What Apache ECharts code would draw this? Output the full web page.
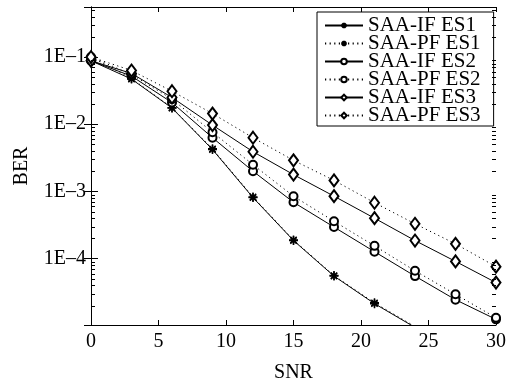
<!DOCTYPE html>
<html>
<head>
<meta charset="utf-8">
<script src="https://cdn.jsdelivr.net/npm/echarts@6/dist/echarts.min.js"></script>
<style>
  html, body { margin: 0; padding: 0; background: #fff; }
  #chart { width: 512px; height: 382px; }
</style>
</head>
<body>
<div id="chart"></div>
<script>
// SNR points (x axis)
const snr = [0, 3, 6, 9, 12, 15, 18, 21, 24, 27, 30];
const xTicks = [0, 5, 10, 15, 20, 25, 30];

// BER values
const berIfEs1 = [0.088, 0.047, 0.0174, 0.0042, 0.00081, 0.000186, 5.5e-5, 2.14e-5, 9.5e-6];
const berPfEs1 = [0.1, 0.048, 0.0176, 0.0043, 0.00083, 0.00019, 5.6e-5, 2.2e-5, 9.8e-6];
const berIfEs2 = [0.088, 0.052, 0.021, 0.0063, 0.002, 0.00069, 0.000295, 0.000127, 5.5e-5, 2.45e-5, 1.25e-5];
const berPfEs2 = [0.1, 0.055, 0.0236, 0.0076, 0.0025, 0.00085, 0.00036, 0.000155, 6.6e-5, 2.95e-5, 1.32e-5];
const berIfEs3 = [0.088, 0.057, 0.025, 0.0097, 0.0039, 0.00178, 0.00085, 0.0004, 0.000186, 9.1e-5, 4.4e-5];
const berPfEs3 = [0.1, 0.063, 0.031, 0.0144, 0.0063, 0.0029, 0.00146, 0.00068, 0.00033, 0.000166, 7.6e-5];

const yMin = 1.03e-5;
const yMax = 0.555;
const font = "Liberation Serif";

// MATLAB-like asterisk marker
const starPath = "path://M0,-5L0,5M-5,0L5,0M-3.5,-3.5L3.5,3.5M-3.5,3.5L3.5,-3.5";
const dots = [1.2, 3.4];

function pairs(vals) {
  return vals.map((v, i) => [snr[i], v]);
}

function mkSeries(name, vals, symbol, size, dashed) {
  const isStar = symbol === starPath;
  return {
    name: name,
    type: "line",
    data: pairs(vals),
    symbol: symbol,
    symbolSize: size,
    showAllSymbol: true,
    clip: true,
    lineStyle: { color: "#000", width: 1, type: dashed ? dots : "solid" },
    itemStyle: isStar
      ? { color: "#000", borderColor: "#000", borderWidth: 1.5 }
      : { color: "#000", borderWidth: 1 },
    emphasis: { disabled: true },
    z: 3,
  };
}

function fmtY(v) {
  const lg = Math.log10(v);
  const e = Math.round(lg);
  if (Math.abs(lg - e) > 0.01 || e <= -5 || e >= 0) return "";
  return "1E\u2013" + (-e);
}

// log minor ticks (2..9 per decade) on left and right axis lines
const minorTicks = {
  type: "custom",
  coordinateSystem: "cartesian2d",
  data: [[0, 0.01]],
  silent: true,
  clip: false,
  z: 5,
  renderItem: function (params, api) {
    const children = [];
    for (let n = -6; n <= 0; n++) {
      for (let k = 2; k <= 9; k++) {
        const v = k * Math.pow(10, n);
        if (v < yMin || v > yMax) continue;
        const l = api.coord([0, v]);
        const r = api.coord([30, v]);
        const y = Math.round(l[1]) + 0.5;
        children.push({ type: "line", shape: { x1: l[0], y1: y, x2: l[0] + 4, y2: y }, style: { stroke: "#000", lineWidth: 1 } });
        children.push({ type: "line", shape: { x1: r[0] - 4, y1: y, x2: r[0], y2: y }, style: { stroke: "#000", lineWidth: 1 } });
      }
    }
    return { type: "group", children: children };
  },
};

const chart = echarts.init(document.getElementById("chart"));
chart.setOption({
  animation: false,
  backgroundColor: "#fff",
  grid: { left: 91, right: 16, top: 7, bottom: 57, containLabel: false, outerBoundsMode: "none" },
  legend: {
    orient: "vertical",
    left: 317,
    top: 12,
    padding: [3, 13, 0, 7],
    itemGap: -3,
    itemWidth: 38,
    itemHeight: 7,
    borderColor: "#000",
    borderWidth: 1,
    backgroundColor: "#fff",
    textStyle: { fontFamily: font, fontSize: 21, color: "#000", lineHeight: 17.6 },
    data: ["SAA-IF ES1", "SAA-PF ES1", "SAA-IF ES2", "SAA-PF ES2", "SAA-IF ES3", "SAA-PF ES3"],
  },
  xAxis: [
    {
      type: "value",
      min: 0,
      max: 30,
      interval: 5,
      name: "SNR",
      nameLocation: "middle",
      nameGap: 38,
      nameMoveOverlap: false,
      nameTextStyle: { fontFamily: font, fontSize: 20, color: "#000" },
      axisLine: { lineStyle: { color: "#000", width: 1 } },
      axisTick: { inside: true, length: 5, lineStyle: { color: "#000" } },
      axisLabel: { fontFamily: font, fontSize: 20, color: "#000", margin: 7 },
      splitLine: { show: false },
    },
    {
      type: "value",
      position: "top",
      min: 0,
      max: 30,
      interval: 5,
      axisLine: { lineStyle: { color: "#000", width: 1 } },
      axisTick: { inside: true, length: 5, lineStyle: { color: "#000" } },
      axisLabel: { show: false },
      splitLine: { show: false },
    },
  ],
  yAxis: [
    {
      type: "log",
      logBase: 10,
      min: yMin,
      max: yMax,
      name: "BER",
      nameLocation: "middle",
      nameGap: 59,
      nameMoveOverlap: false,
      nameTextStyle: { fontFamily: font, fontSize: 20, color: "#000" },
      axisLine: { show: true, lineStyle: { color: "#000", width: 1 } },
      axisTick: { inside: true, length: 7, lineStyle: { color: "#000" } },
      axisLabel: { fontFamily: font, fontSize: 20, color: "#000", margin: 5, formatter: fmtY },
      splitLine: { show: false },
    },
    {
      type: "log",
      logBase: 10,
      position: "right",
      min: yMin,
      max: yMax,
      axisLine: { show: true, lineStyle: { color: "#000", width: 1 } },
      axisTick: { inside: true, length: 7, lineStyle: { color: "#000" } },
      axisLabel: { show: false },
      splitLine: { show: false },
    },
  ],
  series: [
    mkSeries("SAA-IF ES1", berIfEs1, starPath, 9, false),
    mkSeries("SAA-PF ES1", berPfEs1, starPath, 9, true),
    mkSeries("SAA-IF ES2", berIfEs2, "emptyCircle", 8, false),
    mkSeries("SAA-PF ES2", berPfEs2, "emptyCircle", 8, true),
    mkSeries("SAA-IF ES3", berIfEs3, "emptyDiamond", [9, 12], false),
    mkSeries("SAA-PF ES3", berPfEs3, "emptyDiamond", [9, 12], true),
    minorTicks,
  ],
});
</script>
</body>
</html>
